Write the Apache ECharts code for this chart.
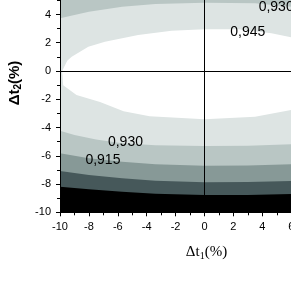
<!DOCTYPE html>
<html>
<head>
<meta charset="utf-8">
<script src="https://cdn.jsdelivr.net/npm/echarts@6/dist/echarts.min.js"></script>
<style>
html,body{margin:0;padding:0;background:#fff;}
#chart{width:291px;height:283px;}
</style>
</head>
<body>
<div id="chart"></div>
<script>
// ---- data (axis units: %) ----
const xRange = [-10, 10];
const yRange = [-10, 10];
const tickStep = 2;
const levels = [0.885, 0.900, 0.915, 0.930, 0.945];

// lower boundary of each contour level (x, y)
const bottom885 = [[-10,-8.19],[-8,-8.37],[-5.7,-8.54],[-3.4,-8.68],[0,-8.78],[3,-8.78],[6,-8.71],[8,-8.6],[10,-8.45]];
const bottom900 = [[-10,-7.08],[-8,-7.36],[-5.7,-7.59],[-3.4,-7.76],[0,-7.88],[3,-7.86],[6,-7.78],[8,-7.65],[10,-7.45]];
const bottom915 = [[-10,-5.82],[-8,-6.18],[-5.7,-6.42],[-3.4,-6.6],[0,-6.7],[3,-6.68],[6,-6.6],[8,-6.45],[10,-6.2]];
const bottom930 = [[-10,-4.22],[-9,-4.53],[-7.5,-4.85],[-5.7,-5.12],[-3.4,-5.25],[0,-5.31],[3,-5.29],[6,-5.19],[8,-5.0],[10,-4.65]];
// upper boundary of the 0.930 level
const top930 = [[-10,3.73],[-8,4.2],[-5.7,4.55],[-3.4,4.74],[0,4.83],[3.5,4.79],[6,4.55],[8,4.2],[10,3.6]];
// closed 0.945 contour
const loop945 = [[-9.85,0],[-9.5,0.72],[-9.19,1.01],[-8.04,1.72],[-6.89,2.07],[-4.59,2.55],[-2.28,2.85],[0,2.95],[2.32,2.95],[4.63,2.67],[6,2.38],[8,1.7],[9.5,0.6],[9.8,-0.4],[8,-2.2],[6,-2.76],[3.5,-3.23],[0,-3.42],[-3.8,-3.2],[-5.6,-2.85],[-7.23,-2.2],[-8.86,-1.7],[-9.78,-1.0]];

// contour labels: [x, y, text]
const contourLabels = [[3.0,2.76,'0,945'],[4.96,4.53,'0,930'],[-5.47,-5.06,'0,930'],[-7.03,-6.30,'0,915']];
const crossX = 0, crossY = 0;

// ---- build regions ----
function closeUp(curve){ // region above a lower boundary
  return curve.concat([[xRange[1], yRange[1]], [xRange[0], yRange[1]]]);
}
const regions = [
  {pts: [[xRange[0],yRange[0]],[xRange[1],yRange[0]],[xRange[1],yRange[1]],[xRange[0],yRange[1]]], color:'#000000'},
  {pts: closeUp(bottom885), color:'#46585a'},
  {pts: closeUp(bottom900), color:'#879997'},
  {pts: closeUp(bottom915), color:'#b9c6c4'},
  {pts: bottom930.concat(top930.slice().reverse()), color:'#dde4e3'},
  {pts: loop945, color:'#ffffff'}
];

const regionSeries = regions.map(r => ({
  type:'custom', silent:true, clip:true, z:1,
  data:[0],
  renderItem: function(params, api){
    return {type:'polygon', shape:{points: r.pts.map(p => api.coord(p))}, style:{fill:r.color, stroke:null}};
  }
}));

const chart = echarts.init(document.getElementById('chart'), null, {renderer:'canvas'});
const axisCommon = {
  type:'value', interval: tickStep, z:10,
  axisLine:{show:true, onZero:false, lineStyle:{color:'#000', width:1}},
  axisTick:{show:true, inside:false, length:4, lineStyle:{color:'#000'}},
  minorTick:{show:true, splitNumber:2, length:3, lineStyle:{color:'#000'}},
  splitLine:{show:false},
  axisLabel:{color:'#000', fontSize:11, fontFamily:'Liberation Sans, Arial, sans-serif', margin:9}
};
chart.setOption({
  animation:false,
  backgroundColor:'#fff',
  grid:{left:60, right:-58, top:-70.3, bottom:70.7, containLabel:false, outerBoundsMode:'none'},
  xAxis: Object.assign({}, axisCommon, {min:xRange[0], max:xRange[1]}),
  yAxis: Object.assign({}, axisCommon, {min:yRange[0], max:yRange[1], axisLabel:Object.assign({}, axisCommon.axisLabel, {margin:9})}),
  series: regionSeries.concat([
    {
      type:'line', data:[], silent:true, z:5,
      markLine:{silent:true, symbol:'none', label:{show:false}, animation:false,
        lineStyle:{color:'#000', width:1, type:'solid'},
        data:[{xAxis:crossX},{yAxis:crossY}]}
    },
    {
      type:'custom', silent:true, z:6, clip:false,
      data: contourLabels,
      renderItem: function(params, api){
        const p = api.coord([api.value(0), api.value(1)]);
        return {type:'text', x:p[0], y:p[1], style:{text: contourLabels[params.dataIndex][2], fill:'#000', font:'14px "Liberation Sans", Arial, sans-serif', align:'center', verticalAlign:'middle'}};
      }
    }
  ]),
  graphic:[
    {type:'text', x:14.5, y:83, rotation:Math.PI/2, z:100,
     style:{text:'{m|Δt}{s|2}{m|(%)}', align:'center', verticalAlign:'middle',
       rich:{m:{fontSize:15, fontWeight:'bold', fontFamily:'Liberation Sans, Arial, sans-serif', fill:'#000'},
             s:{fontSize:10, fontWeight:'bold', fontFamily:'Liberation Sans, Arial, sans-serif', fill:'#000', padding:[8,0,0,0]}}}},
    {type:'text', x:206.5, y:252, z:100,
     style:{text:'{m|Δt}{s|1}{m|(%)}', align:'center', verticalAlign:'middle',
       rich:{m:{fontSize:15, fontFamily:'Liberation Serif, Times New Roman, serif', fill:'#000'},
             s:{fontSize:10, fontFamily:'Liberation Serif, Times New Roman, serif', fill:'#000', padding:[8,0,0,0]}}}}
  ]
});
</script>
</body>
</html>
